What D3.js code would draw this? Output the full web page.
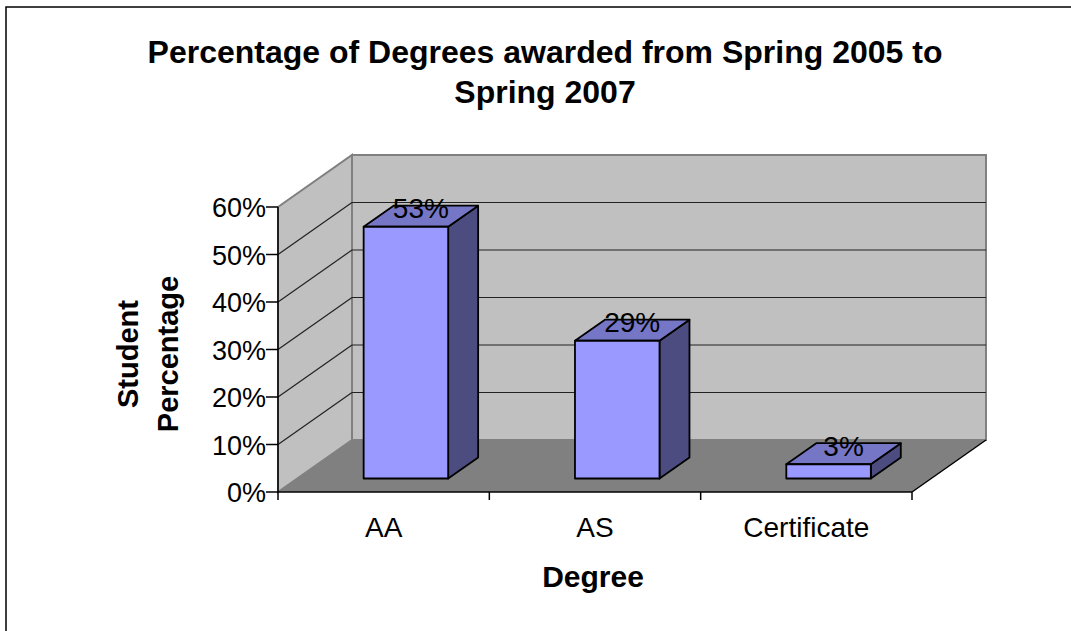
<!DOCTYPE html>
<html>
<head>
<meta charset="utf-8">
<script src="https://cdnjs.cloudflare.com/ajax/libs/d3/7.8.5/d3.min.js"></script>
<style>
  html, body { margin: 0; padding: 0; background: #fff; }
  text { font-family: "Liberation Sans", Arial, sans-serif; fill: #000; }
</style>
</head>
<body>
<svg id="chart" width="1071" height="631"></svg>
<script>
const categories = ["AA", "AS", "Certificate"]
const values = [0.53, 0.29, 0.03]
const valueLabels = ["53%", "29%", "3%"]
const tickValues = [0, 0.1, 0.2, 0.3, 0.4, 0.5, 0.6]
const titleLines = ["Percentage of Degrees awarded from Spring 2005 to", "Spring 2007"]
const yTitleLines = ["Student", "Percentage"]
const xTitle = "Degree"

const svg = d3.select("#chart")

// frame (right and bottom edges fall off the picture)
svg.append("rect")
  .attr("x", 6).attr("y", 7)
  .attr("width", 1100).attr("height", 700)
  .attr("fill", "none").attr("stroke", "#000").attr("stroke-width", 1.5)

// plot geometry: front plane + oblique depth vector
const left = 278
const right = 912
const base = 492
const depthX = 74
const depthY = 52

const x = d3.scaleBand().domain(categories).range([left, right])
const y = d3.scaleLinear().domain([0, 0.6]).range([0, 285])

// project (screen x on front plane, value, depth 0..1)
const p = (px, v, z) => [px + depthX * z, base - y(v) - depthY * z]
const poly = (pts) => pts.map((d) => d.join(",")).join(" ")

const yMax = 0.6

// back wall
svg.append("polygon")
  .attr("points", poly([p(left, 0, 1), p(right, 0, 1), p(right, yMax, 1), p(left, yMax, 1)]))
  .attr("fill", "#c0c0c0").attr("stroke", "#808080").attr("stroke-width", 2)

// side wall
svg.append("polygon")
  .attr("points", poly([p(left, 0, 0), p(left, 0, 1), p(left, yMax, 1), p(left, yMax, 0)]))
  .attr("fill", "#c0c0c0").attr("stroke", "#808080").attr("stroke-width", 2)

// floor
svg.append("polygon")
  .attr("points", poly([p(left, 0, 0), p(right, 0, 0), p(right, 0, 1), p(left, 0, 1)]))
  .attr("fill", "#808080")

// gridlines
const grid = svg.append("g").attr("stroke", "#222").attr("stroke-width", 1.2)
tickValues.filter((t) => t > 0 && t < yMax).forEach((t) => {
  const a = p(left, t, 0), b = p(left, t, 1), c = p(right, t, 1)
  grid.append("line").attr("x1", a[0]).attr("y1", a[1]).attr("x2", b[0]).attr("y2", b[1])
  grid.append("line").attr("x1", b[0]).attr("y1", b[1]).attr("x2", c[0]).attr("y2", c[1])
})

// floor edges + axes
const axisG = svg.append("g").attr("stroke", "#000").attr("stroke-width", 1.5)
const f0 = p(left, 0, 0), f1 = p(right, 0, 0), f2 = p(right, 0, 1)
axisG.append("line").attr("x1", f0[0]).attr("y1", f0[1]).attr("x2", f1[0]).attr("y2", f1[1])
axisG.append("line").attr("x1", f1[0]).attr("y1", f1[1]).attr("x2", f2[0]).attr("y2", f2[1])
const yt = p(left, yMax, 0)
axisG.append("line").attr("x1", f0[0]).attr("y1", f0[1]).attr("x2", yt[0]).attr("y2", yt[1])

// y ticks and labels
tickValues.forEach((t) => {
  const [tx, ty] = p(left, t, 0)
  axisG.append("line").attr("x1", tx - 12).attr("y1", ty).attr("x2", tx).attr("y2", ty)
  svg.append("text")
    .attr("x", tx - 12).attr("y", ty + 10)
    .attr("text-anchor", "end")
    .attr("font-size", 27)
    .text(d3.format(".0%")(t))
})

// x ticks at category boundaries
const bounds = categories.map((c) => x(c)).concat([right])
bounds.forEach((bx) => {
  axisG.append("line").attr("x1", bx).attr("y1", base).attr("x2", bx).attr("y2", base + 8)
})

// category labels
categories.forEach((c) => {
  svg.append("text")
    .attr("x", x(c) + x.bandwidth() / 2).attr("y", base + 45)
    .attr("text-anchor", "middle")
    .attr("font-size", 28)
    .text(c)
})

// bars
const zf = 0.26
const zb = zf + 0.405
const barW = x.bandwidth() * 0.4
const bars = svg.append("g").attr("stroke", "#000").attr("stroke-width", 1.8).attr("stroke-linejoin", "round")

categories.forEach((c, i) => {
  const v = values[i]
  const xl = x(c) + (x.bandwidth() - barW) / 2 + 3
  const xr = xl + barW
  // side face
  bars.append("polygon")
    .attr("points", poly([p(xr, 0, zf), p(xr, 0, zb), p(xr, v, zb), p(xr, v, zf)]))
    .attr("fill", "#4c4c80")
  // top face
  bars.append("polygon")
    .attr("points", poly([p(xl, v, zf), p(xr, v, zf), p(xr, v, zb), p(xl, v, zb)]))
    .attr("fill", "#7676c6")
  // front face
  bars.append("polygon")
    .attr("points", poly([p(xl, 0, zf), p(xr, 0, zf), p(xr, v, zf), p(xl, v, zf)]))
    .attr("fill", "#9999ff")

  const [lx, ly] = p((xl + xr) / 2, v, (zf + zb) / 2)
  svg.append("text")
    .attr("x", lx).attr("y", ly + 2)
    .attr("text-anchor", "middle")
    .attr("font-size", 28)
    .text(valueLabels[i])
})

// titles
titleLines.forEach((t, i) => {
  svg.append("text")
    .attr("x", 545).attr("y", 63 + i * 40)
    .attr("text-anchor", "middle")
    .attr("font-size", 32).attr("font-weight", "bold")
    .text(t)
})

yTitleLines.forEach((t, i) => {
  svg.append("text")
    .attr("transform", `translate(${138 + i * 40}, 354) rotate(-90)`)
    .attr("text-anchor", "middle")
    .attr("font-size", 29).attr("font-weight", "bold")
    .text(t)
})

svg.append("text")
  .attr("x", 593).attr("y", 587)
  .attr("text-anchor", "middle")
  .attr("font-size", 30).attr("font-weight", "bold")
  .text(xTitle)
</script>
</body>
</html>
